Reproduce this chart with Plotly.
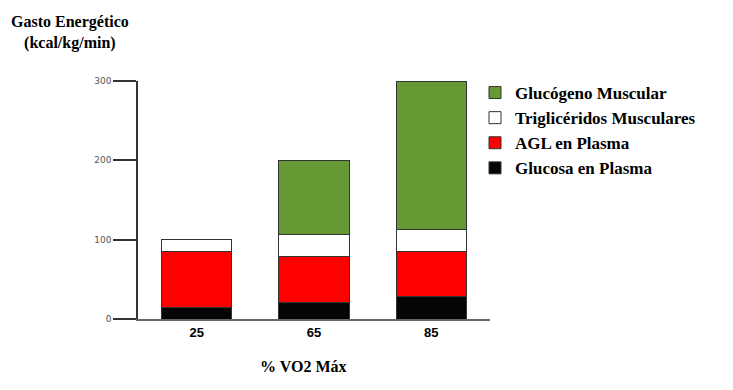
import plotly.graph_objects as go

categories = ["25", "65", "85"]
glucosa_plasma = [14, 21, 28]
agl_plasma = [71, 58, 57]
trigliceridos = [15, 27, 28]
glucogeno = [0, 94, 187]
y_ticks = [0, 100, 200, 300]

series = [
    ("Glucosa en Plasma", glucosa_plasma, "#050505"),
    ("AGL en Plasma", agl_plasma, "#ff0000"),
    ("Triglicéridos Musculares", trigliceridos, "#ffffff"),
    ("Glucógeno Muscular", glucogeno, "#669933"),
]

fig = go.Figure()
for name, vals, col in series:
    fig.add_trace(go.Bar(
        x=categories, y=vals, name=name,
        marker=dict(color=col, line=dict(color="#333333", width=1)),
    ))

serif = "'Liberation Serif', 'Times New Roman', Times, serif"
PW, PH = 352, 238
fig.update_layout(
    width=725, height=382,
    barmode="stack", bargap=0.4,
    paper_bgcolor="white", plot_bgcolor="white",
    margin=dict(l=130, r=243, t=73, b=71),
    showlegend=True,
    legend=dict(
        x=(475 - 138) / PW, y=1 + 6 / PH, xanchor="left", yanchor="top",
        traceorder="reversed",
        font=dict(family=serif, size=17, color="#000000", weight="bold"),
        itemwidth=30, tracegroupgap=0,
        bgcolor="rgba(0,0,0,0)",
    ),
    xaxis=dict(
        type="category", range=[-0.5, 2.5],
        showline=True, linecolor="#666666", linewidth=2,
        ticks="", showgrid=False,
        tickfont=dict(family="Liberation Sans", size=13, color="#000000", weight="bold"),
    ),
    yaxis=dict(
        range=[0, 300], tickvals=y_ticks,
        showline=True, linecolor="#333333", linewidth=1.5,
        ticks="outside", ticklen=23, tickcolor="#333333", tickwidth=1.5,
        showgrid=False, zeroline=False,
        tickfont=dict(family="DejaVu Sans", size=9, color="#555555"),
    ),
    annotations=[
        dict(text="Gasto Energético<br>(kcal/kg/min)", xref="paper", yref="paper",
             x=(70 - 138) / PW, y=1 + (81 - 32) / PH, xanchor="center", yanchor="middle",
             showarrow=False, align="center",
             font=dict(family=serif, size=16, color="#000000", weight="bold")),
        dict(text="% VO2 Máx", xref="paper", yref="paper",
             x=(303 - 138) / PW, y=-(366 - 319) / PH, xanchor="center", yanchor="middle",
             showarrow=False,
             font=dict(family=serif, size=16, color="#000000", weight="bold")),
    ],
)

fig.write_html("out.html")
